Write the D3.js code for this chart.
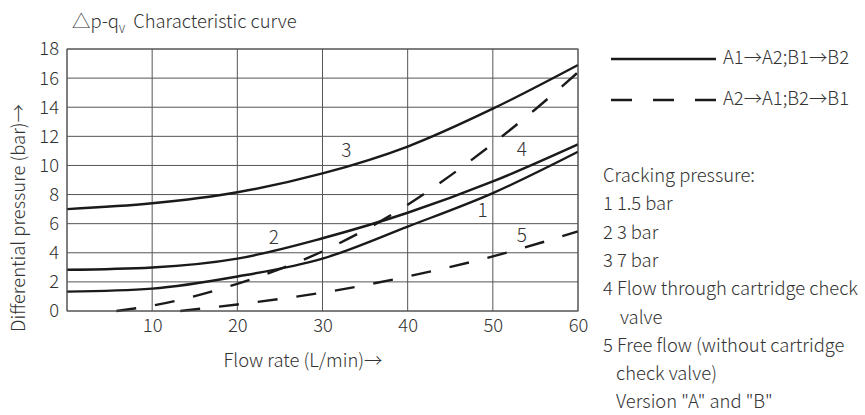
<!DOCTYPE html>
<html>
<head>
<meta charset="utf-8">
<script src="https://cdn.jsdelivr.net/npm/d3@7"></script>
<style>
  body { margin: 0; background: #fff; }
  svg text { font-family: "Noto Sans CJK SC", "Noto Sans", sans-serif; font-weight: 300; fill: #333; }
  .grid line, .frame { stroke: #555; stroke-width: 1; fill: none; }
  .curve { fill: none; stroke: #1a1a1a; stroke-width: 2.4; }
  .dash { stroke-dasharray: 20 19; }
</style>
</head>
<body>
<script>
(function() {
    // data
    var xTicks = [10, 20, 30, 40, 50, 60];
    var yTicks = [0, 2, 4, 6, 8, 10, 12, 14, 16, 18];

    var flowSolid = [0, 10, 20, 30, 40, 50, 60];
    var curve1 = [1.33, 1.54, 2.37, 3.6, 5.8, 8.1, 10.94];
    var curve2 = [2.83, 2.99, 3.6, 5.0, 6.75, 8.9, 11.45];
    var curve3 = [7.0, 7.4, 8.16, 9.45, 11.3, 13.9, 16.9];

    var flow4 = [5.8, 10, 20, 30, 40, 45, 50, 55, 60];
    var curve4 = [0, 0.37, 1.87, 4.1, 7.3, 9.3, 11.5, 13.86, 16.4];

    var flow5 = [13.3, 20, 30, 40, 50, 60];
    var curve5 = [0, 0.45, 1.26, 2.37, 3.75, 5.47];

    var curveLabels = [
        { text: "3", x: 32.8, y: 10.6 },
        { text: "2", x: 24.3, y: 4.6 },
        { text: "4", x: 53.4, y: 10.65 },
        { text: "1", x: 48.8, y: 6.45 },
        { text: "5", x: 53.4, y: 4.75 }
    ];

    var legendItems = ["A1\u2192A2;B1\u2192B2", "A2\u2192A1;B2\u2192B1"];
    var notes = [
        "Cracking pressure:",
        "1 1.5 bar",
        "2 3 bar",
        "3 7 bar",
        "4 Flow through cartridge check",
        "   valve",
        "5 Free flow (without cartridge",
        "  check valve)",
        "  Version \"A\" and \"B\""
    ];

    var width = 865, height = 415;
    var fs = "18.4px";
    var svg = d3.select("body").append("svg")
        .attr("width", width)
        .attr("height", height);

    var x = d3.scaleLinear().domain([0, 60]).range([67, 578]);
    var y = d3.scaleLinear().domain([0, 18]).range([311, 49]);

    // grid
    var grid = svg.append("g").classed("grid", true);
    grid.selectAll(".v")
        .data([0].concat(xTicks))
        .enter().append("line")
        .attr("x1", function(d) { return x(d); })
        .attr("x2", function(d) { return x(d); })
        .attr("y1", y(0))
        .attr("y2", y(18));
    grid.selectAll(".h")
        .data(yTicks)
        .enter().append("line")
        .attr("x1", x(0))
        .attr("x2", x(60))
        .attr("y1", function(d) { return y(d); })
        .attr("y2", function(d) { return y(d); });

    // tick labels via d3 axes, lines hidden
    var xAxis = svg.append("g")
        .attr("transform", "translate(0," + y(0) + ")")
        .call(d3.axisBottom(x).tickValues(xTicks).tickSize(0).tickPadding(8));
    var yAxis = svg.append("g")
        .attr("transform", "translate(" + x(0) + ",0)")
        .call(d3.axisLeft(y).tickValues(yTicks).tickSize(0).tickPadding(8));
    [xAxis, yAxis].forEach(function(a) {
        a.select(".domain").remove();
        a.selectAll("text").style("font-size", fs).attr("fill", "#333");
    });

    // curves
    var line = d3.line()
        .x(function(d) { return x(d[0]); })
        .y(function(d) { return y(d[1]); })
        .curve(d3.curveMonotoneX);

    function pairs(xs, ys) {
        return xs.map(function(v, i) { return [v, ys[i]]; });
    }

    [curve1, curve2, curve3].forEach(function(c) {
        svg.append("path").classed("curve", true).attr("d", line(pairs(flowSolid, c)));
    });
    svg.append("path").classed("curve dash", true).attr("d", line(pairs(flow4, curve4)));
    svg.append("path").classed("curve dash", true).attr("d", line(pairs(flow5, curve5)));

    svg.selectAll(".clabel")
        .data(curveLabels)
        .enter().append("text")
        .attr("x", function(d) { return x(d.x); })
        .attr("y", function(d) { return y(d.y); })
        .attr("text-anchor", "middle")
        .style("font-size", "19px")
        .text(function(d) { return d.text; });

    // frame
    svg.append("rect").classed("frame", true)
        .attr("x", x(0)).attr("y", y(18))
        .attr("width", x(60) - x(0)).attr("height", y(0) - y(18));

    // title and axis titles
    svg.append("text")
        .attr("x", 72).attr("y", 28)
        .style("font-size", fs)
        .html("\u25B3p-q<tspan dy='5' font-size='11px'>V</tspan><tspan dy='-5'>&#160; Characteristic curve</tspan>");

    svg.append("text")
        .attr("x", 303).attr("y", 367)
        .attr("text-anchor", "middle")
        .style("font-size", fs)
        .text("Flow rate (L/min)\u2192");

    svg.append("text")
        .attr("transform", "translate(25,218) rotate(-90)")
        .attr("text-anchor", "middle")
        .style("font-size", fs)
        .text("Differential pressure (bar)\u2192");

    // legend
    var legend = svg.append("g");
    legendItems.forEach(function(t, i) {
        var ly = 59 + i * 41;
        legend.append("line")
            .attr("x1", 611).attr("x2", 716)
            .attr("y1", ly).attr("y2", ly)
            .attr("stroke", "#1a1a1a")
            .attr("stroke-width", 2.4)
            .attr("stroke-dasharray", i === 1 ? "21 21" : null);
        legend.append("text")
            .attr("x", 723).attr("y", ly + 5)
            .style("font-size", fs)
            .text(t);
    });

    // notes
    svg.append("g").selectAll("text")
        .data(notes)
        .enter().append("text")
        .attr("x", function(d) {
            var n = d.length - d.replace(/^ +/, "").length;
            return 603 + (n === 3 ? 17 : n === 2 ? 13 : 0);
        })
        .attr("y", function(d, i) { return 182 + i * 28.3; })
        .style("font-size", fs)
        .text(function(d) { return d.trim(); });
})();
</script>
</body>
</html>
